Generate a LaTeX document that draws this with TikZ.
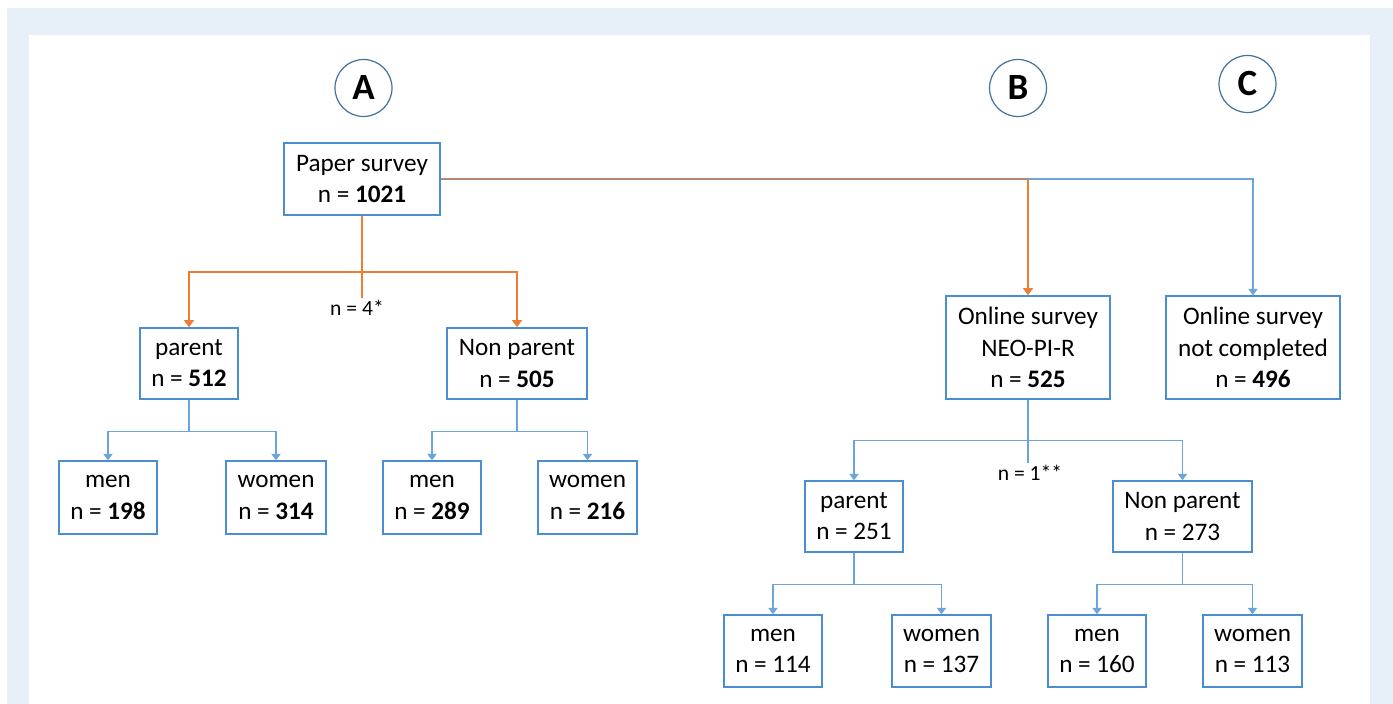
\documentclass[tikz,border=0pt]{standalone}
\usepackage{fontspec}
\setmainfont{Carlito}
\usetikzlibrary{arrows.meta,positioning}

\definecolor{boxBlue}{RGB}{72,142,208}
\definecolor{lineBlue}{RGB}{108,164,220}
\definecolor{lineOrange}{RGB}{237,125,49}
\definecolor{lineBrown}{RGB}{181,133,112}
\definecolor{circBlue}{RGB}{65,113,156}
\definecolor{bgBlue}{RGB}{231,239,248}

\tikzset{
  box/.style={draw=boxBlue, line width=0.75pt, fill=white, align=center,
    inner sep=0pt, font=\fontsize{12.6}{15.6}\selectfont},
  letter/.style={circle, draw=circBlue, line width=0.6pt, minimum size=28.5pt,
    inner sep=0pt, font=\fontsize{18.5}{20}\selectfont\bfseries},
  note/.style={inner sep=1pt, font=\fontsize{10.8}{12}\selectfont},
  blueLine/.style={draw=lineBlue, line width=0.65pt},
  blueArrow/.style={blueLine, -{Triangle[length=3.2pt,width=4.6pt]}},
  orangeLine/.style={draw=lineOrange, line width=1pt},
  orangeArrow/.style={orangeLine, -{Triangle[length=3.6pt,width=5pt]}},
}

\begin{document}
\begin{tikzpicture}[x=0.5pt, y=-0.5pt]
  % 设置边框
  \useasboundingbox (0,0) rectangle (1393,704);
  \fill[white] (0,0) rectangle (1393,704);
  \fill[bgBlue] (7,8) rectangle (1393,704);
  \fill[white] (29,35) rectangle (1370,704);

  % 字母圆圈
  \node[letter] (cA) at (363.5,88) {A};
  \node[letter] (cB) at (1018,88) {B};
  \node[letter] (cC) at (1247.5,84) {C};

  % 纸质问卷
  \node[box, minimum width=78pt, minimum height=36pt] (pap) at (362,179)
    {Paper survey\\n = \textbf{1021}};
  \node[box, minimum width=49pt, minimum height=35.5pt] (par1) at (189,363.5)
    {parent\\n = \textbf{512}};
  \node[box, minimum width=70pt, minimum height=35.5pt] (non1) at (517,363.5)
    {Non parent\\n = \textbf{505}};
  \node[box, minimum width=49pt, minimum height=36.5pt] (men1) at (108,497.5)
    {men\\n = \textbf{198}};
  \node[box, minimum width=50pt, minimum height=36.5pt] (wom1) at (276,497.5)
    {women\\n = \textbf{314}};
  \node[box, minimum width=49pt, minimum height=36.5pt] (men2) at (432,497.5)
    {men\\n = \textbf{289}};
  \node[box, minimum width=49.5pt, minimum height=36.5pt] (wom2) at (587.5,497.5)
    {women\\n = \textbf{216}};
  \node[note] (nA) at (357,308) {n = 4*};

  % 在线问卷
  \node[box, minimum width=82pt, minimum height=51.5pt] (neo) at (1028,347.5)
    {Online survey\\NEO-PI-R\\n = \textbf{525}};
  \node[box, minimum width=87pt, minimum height=51.5pt] (notc) at (1253,347.5)
    {Online survey\\not completed\\n = \textbf{496}};
  \node[box, minimum width=49pt, minimum height=35.5pt] (par2) at (854,516.5)
    {parent\\n = 251};
  \node[box, minimum width=69.5pt, minimum height=35.5pt] (non2) at (1182.5,516.5)
    {Non parent\\n = 273};
  \node[box, minimum width=49pt, minimum height=36pt] (men3) at (773,651)
    {men\\n = 114};
  \node[box, minimum width=49.5pt, minimum height=36pt] (wom3) at (941.5,651)
    {women\\n = 137};
  \node[box, minimum width=49pt, minimum height=36pt] (men4) at (1097,651)
    {men\\n = 160};
  \node[box, minimum width=49.5pt, minimum height=36pt] (wom4) at (1252.5,651)
    {women\\n = 113};
  \node[note] (nB) at (1030,473) {n = 1**};

  % 纸质问卷的连线
  \draw[orangeLine] (pap.south) -- ++(0,56) coordinate (jA);
  \draw[orangeLine] (jA) -- (jA |- nA.north);
  \draw[orangeArrow] (jA) -| (par1.north);
  \draw[orangeArrow] (jA) -| (non1.north);
  \draw[blueLine] (par1.south) -- ++(0,32) coordinate (jP1);
  \draw[blueArrow] (jP1) -| (men1.north);
  \draw[blueArrow] (jP1) -| (wom1.north);
  \draw[blueLine] (non1.south) -- ++(0,32) coordinate (jN1);
  \draw[blueArrow] (jN1) -| (men2.north);
  \draw[blueArrow] (jN1) -| (wom2.north);

  % 到在线问卷的连线
  \coordinate (jB) at (neo.north |- pap.east);
  \draw[draw=lineBrown, line width=0.9pt] (pap.east) -- (jB);
  \draw[orangeArrow] (jB) -- (neo.north);
  \draw[blueArrow] (jB) -| (notc.north);

  % 在线问卷下面的连线
  \draw[blueLine] (neo.south) -- ++(0,41) coordinate (jO);
  \draw[blueLine] (jO) -- (jO |- nB.north);
  \draw[blueArrow] (jO) -| (par2.north);
  \draw[blueArrow] (jO) -| (non2.north);
  \draw[blueLine] (par2.south) -- ++(0,32) coordinate (jP2);
  \draw[blueArrow] (jP2) -| (men3.north);
  \draw[blueArrow] (jP2) -| (wom3.north);
  \draw[blueLine] (non2.south) -- ++(0,32) coordinate (jN2);
  \draw[blueArrow] (jN2) -| (men4.north);
  \draw[blueArrow] (jN2) -| (wom4.north);
\end{tikzpicture}
\end{document}
